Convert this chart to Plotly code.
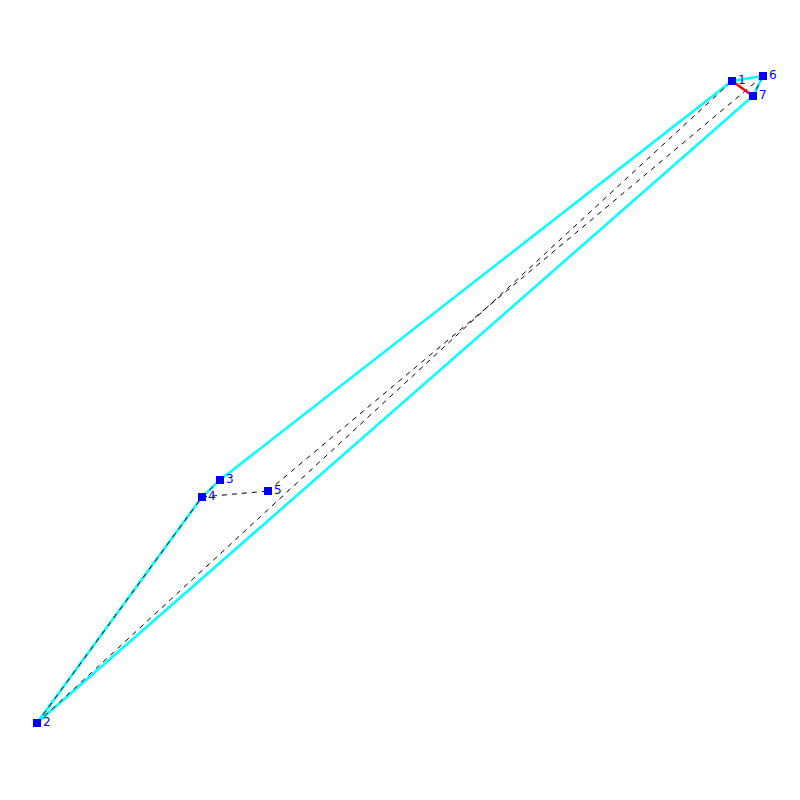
import plotly.graph_objects as go

labels = ["1", "2", "3", "4", "5", "6", "7"]
xs = [732, 37, 220, 202, 268, 763, 753]
ys = [719, 77, 320, 303, 309, 724, 704]

hull_path = ["2", "4", "3", "1", "6", "7", "2"]
dashed_edges = [("2", "4"), ("4", "3"), ("4", "5"), ("5", "6"), ("2", "1"), ("6", "7")]
red_edge = ["1", "7"]


def coords(names):
    px = [xs[labels.index(n)] for n in names]
    py = [ys[labels.index(n)] for n in names]
    return px, py


fig = go.Figure()

hx, hy = coords(hull_path)
fig.add_trace(go.Scatter(x=hx, y=hy, mode="lines", line=dict(color="#00ffff", width=2.5)))

for a, b in dashed_edges:
    ex, ey = coords([a, b])
    fig.add_trace(go.Scatter(x=ex, y=ey, mode="lines", line=dict(color="black", width=1, dash="5px,5px")))

rx, ry = coords(red_edge)
fig.add_trace(go.Scatter(x=rx, y=ry, mode="lines", line=dict(color="#ff0000", width=2.5)))

fig.add_trace(go.Scatter(x=xs, y=ys, mode="markers+text", text=labels, textposition="middle right",
                         marker=dict(symbol="square", size=8, color="#0000ff"),
                         textfont=dict(family="DejaVu Sans", size=12, color="#0000ff")))

# page body has an 8px margin, so the plot is 784 wide and the range starts at 8
fig.update_xaxes(range=[8, 792], visible=False)
fig.update_yaxes(range=[8, 792], visible=False)
fig.update_layout(width=784, height=784, margin=dict(l=0, r=0, t=0, b=0), showlegend=False,
                  paper_bgcolor="white", plot_bgcolor="white")

fig.write_html("out.html")
